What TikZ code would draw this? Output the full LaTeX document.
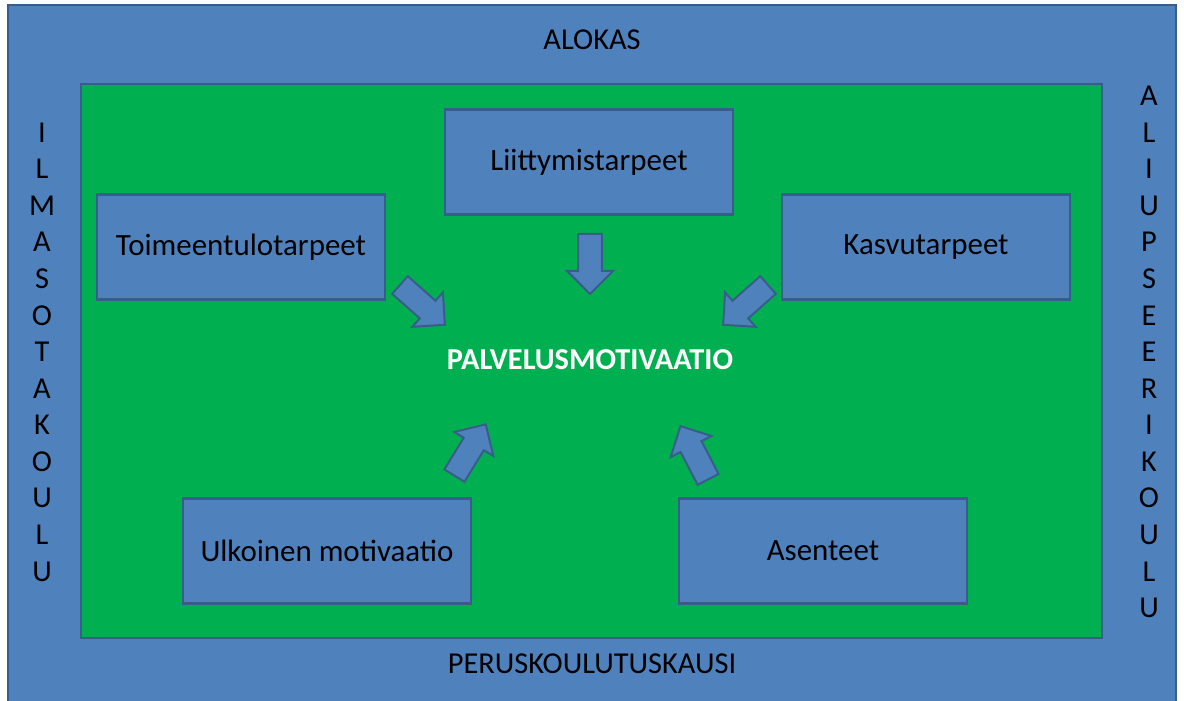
\documentclass[tikz,border=0pt]{standalone}
\usepackage{fontspec}
\setmainfont{Carlito}
\usetikzlibrary{shapes.arrows}
\definecolor{boxblue}{HTML}{4F81BD}
\definecolor{boxedge}{HTML}{385D8A}
\definecolor{fieldgreen}{HTML}{00B050}
\tikzset{
  needbox/.style={draw=boxedge,fill=boxblue,line width=1.6pt,minimum width=7.2cm,minimum height=2.63cm,font=\fontsize{22}{26}\selectfont},
  blockarrow/.style={single arrow,draw=boxedge,fill=boxblue,line width=1.4pt,inner xsep=0pt,inner ysep=0.27cm,minimum width=1.1cm,minimum height=1.5cm,single arrow head extend=0.28cm},
  sidetext/.style={align=center,font=\fontsize{21.6}{26}\selectfont}
}
\begin{document}
\begin{tikzpicture}[x=0.025cm,y=-0.025cm]
  \useasboundingbox (0,0) rectangle (1184,701);
  \clip (0,0) rectangle (1184,701);
  % frame and field
  \draw[draw=boxedge,fill=boxblue,line width=2pt] (8,5) rectangle (1176,720);
  \draw[draw=boxedge,fill=fieldgreen,line width=2pt] (81,84) rectangle (1102,638);
  % labels on the frame
  \node[font=\fontsize{21.6}{25}\selectfont] (alokas) at (592,40) {ALOKAS};
  \node[font=\fontsize{21.6}{25}\selectfont] (kausi) at (592,664) {PERUSKOULUTUSKAUSI};
  \node[sidetext] (ilmasota) at (42,352) {I\\L\\M\\A\\S\\O\\T\\A\\K\\O\\U\\L\\U};
  \node[sidetext] (aliupseeri) at (1149,352) {A\\L\\I\\U\\P\\S\\E\\E\\R\\I\\K\\O\\U\\L\\U};
  % needs
  \node[needbox] (liittymis) at (589,162) {Liittymistarpeet};
  \node[needbox] (toimeentulo) at (241,247) {Toimeentulotarpeet};
  \node[needbox] (kasvu) at (926,247) {Kasvutarpeet};
  \node[needbox] (ulkoinen) at (327,551) {Ulkoinen motivaatio};
  \node[needbox] (asenteet) at (823,551) {Asenteet};
  \node[font=\bfseries\fontsize{21.6}{25}\selectfont,text=white] (motivaatio) at (590,360) {PALVELUSMOTIVAATIO};
  % block arrows
  \node[blockarrow,rotate=-90] (a1) at (590,258) {};
  \node[blockarrow,rotate=-41.6] (a2) at (418,301) {};
  \node[blockarrow,rotate=-138.4] (a3) at (750,301) {};
  \node[blockarrow,rotate=58.5] (a4) at (467,455) {};
  \node[blockarrow,rotate=117.4] (a5) at (697,458) {};
\end{tikzpicture}
\end{document}
